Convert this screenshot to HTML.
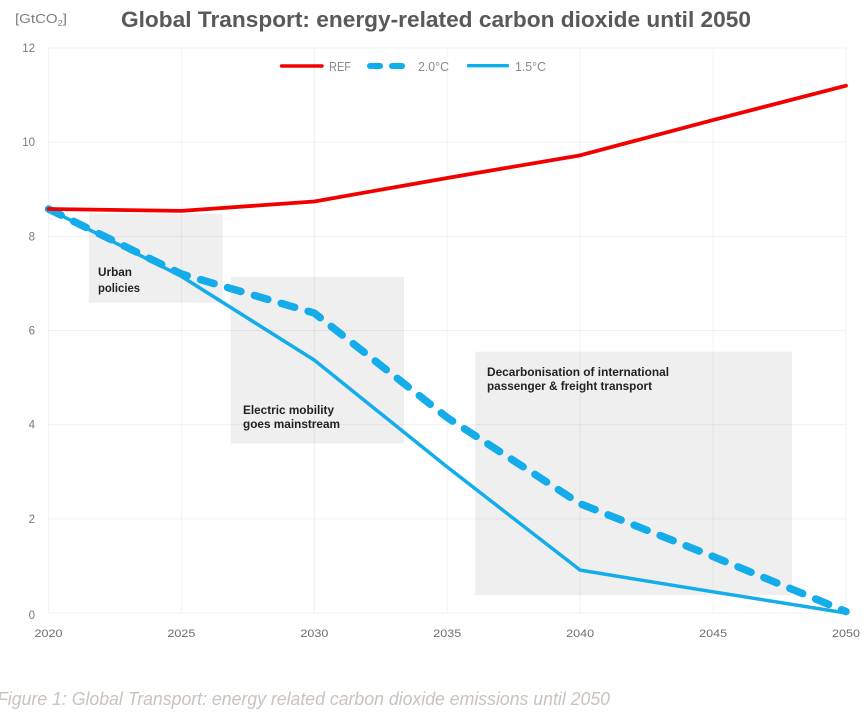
<!DOCTYPE html>
<html lang="en">
<head>
<meta charset="utf-8">
<title>Global Transport: energy-related carbon dioxide until 2050</title>
<style>
html,body{margin:0;padding:0;background:#fff;width:867px;height:720px;overflow:hidden}
svg{display:block;font-family:"Liberation Sans",sans-serif}
</style>
</head>
<body>
<svg id="chart" xmlns="http://www.w3.org/2000/svg" width="867" height="720" viewBox="0 0 867 720">
  <rect x="0" y="0" width="867" height="720" fill="#ffffff"/>
  <g id="boxes"></g>
  <g id="grid"></g>
  <g id="ticks"></g>
  <g id="series"></g>
  <g id="notes"></g>
  <text x="436" y="27" text-anchor="middle" font-size="22.5" font-weight="bold" fill="#595959" textLength="630" lengthAdjust="spacingAndGlyphs">Global Transport: energy-related carbon dioxide until 2050</text>
  <text x="15" y="23" font-size="13" fill="#7f7f7f" textLength="52" lengthAdjust="spacingAndGlyphs">[GtCO<tspan font-size="8" dy="3">2</tspan><tspan dy="-3">]</tspan></text>
  <g id="legend"></g>
  <text x="-3" y="705" font-size="18" font-style="italic" fill="#c9c3be" textLength="613" lengthAdjust="spacingAndGlyphs">Figure 1: Global Transport: energy related carbon dioxide emissions until 2050</text>
</svg>
<script>
const years = [2020, 2025, 2030, 2035, 2040, 2045, 2050];
const yTicks = [0, 2, 4, 6, 8, 10, 12];
const refValues = [8.58, 8.54, 8.74, 9.24, 9.72, 10.47, 11.2];
const twoDegreeValues = [8.58, 7.2, 6.37, 4.15, 2.32, 1.2, 0.03];
const onePointFiveValues = [8.58, 7.15, 5.37, 3.1, 0.91, 0.45, 0];
const boxYears = [[2021.52, 2026.55], [2026.85, 2033.37], [2036.05, 2047.97]];
const boxValues = [[8.48, 6.59], [7.14, 3.6], [5.55, 0.38]];

const NS = 'http://www.w3.org/2000/svg';
const X0 = 48.5, X1 = 846, Y0 = 613, Y1 = 48;
function xScale(v) { return X0 + (v - years[0]) / (years[years.length - 1] - years[0]) * (X1 - X0); }
function yScale(v) { return Y0 - (v - yTicks[0]) / (yTicks[yTicks.length - 1] - yTicks[0]) * (Y0 - Y1); }
function mk(tag, attrs, parent) {
  const el = document.createElementNS(NS, tag);
  for (const k in attrs) el.setAttribute(k, attrs[k]);
  parent.appendChild(el);
  return el;
}

const boxes = document.getElementById('boxes');
boxYears.forEach(function (b, i) {
  const r = mk('rect', {
    x: xScale(b[0]), y: yScale(boxValues[i][0]),
    width: xScale(b[1]) - xScale(b[0]),
    height: yScale(boxValues[i][1]) - yScale(boxValues[i][0]),
    fill: '#efefef'
  }, boxes);
  
  
});

const grid = document.getElementById('grid');
const ticks = document.getElementById('ticks');
yTicks.forEach(function (t) {
  const l = mk('line', { x1: X0, x2: X1, y1: yScale(t), y2: yScale(t), stroke: '#000000', 'stroke-opacity': 0.05, 'stroke-width': 1 }, grid);
  
  
  const s = mk('text', { x: 35, y: yScale(t) + (t === 0 ? 6 : 4), 'text-anchor': 'end', 'font-size': 11.5, fill: '#7a7a7a' }, ticks);
  s.textContent = t;
  
  
});
years.forEach(function (t) {
  const l = mk('line', { x1: xScale(t), x2: xScale(t), y1: Y1, y2: Y0, stroke: '#000000', 'stroke-opacity': 0.05, 'stroke-width': 1 }, grid);
  
  
  const s = mk('text', { x: xScale(t), y: 637, 'text-anchor': 'middle', 'font-size': 11, fill: '#6e6e6e', textLength: 28, lengthAdjust: 'spacingAndGlyphs' }, ticks);
  s.textContent = t;
  
  
});

function pts(values) {
  return values.map(function (v, i) { return xScale(years[i]) + ',' + yScale(v); }).join(' ');
}
const series = document.getElementById('series');
const s1 = mk('polyline', { points: pts(onePointFiveValues), fill: 'none', stroke: '#14adea', 'stroke-width': 3.5, 'stroke-linejoin': 'round', 'stroke-linecap': 'round' }, series);


const s2 = mk('polyline', { points: pts(twoDegreeValues), fill: 'none', stroke: '#14adea', 'stroke-width': 7.5, 'stroke-linejoin': 'round', 'stroke-linecap': 'round', 'stroke-dasharray': '14 14' }, series);


const s3 = mk('polyline', { points: pts(refValues), fill: 'none', stroke: '#f20000', 'stroke-width': 3.8, 'stroke-linejoin': 'round', 'stroke-linecap': 'round' }, series);



const notes = document.getElementById('notes');
function note(x, y, w, text) {
  const t = mk('text', { x: x, y: y, 'font-size': 11.5, 'font-weight': 'bold', fill: '#222222', textLength: w, lengthAdjust: 'spacingAndGlyphs' }, notes);
  t.textContent = text;
  
  
}
note(98, 276, 34, 'Urban');
note(98, 292, 42, 'policies');
note(243, 414, 91, 'Electric mobility');
note(243, 428, 97, 'goes mainstream');
note(487, 376, 182, 'Decarbonisation of international');
note(487, 390, 165, 'passenger & freight transport');

const legend = document.getElementById('legend');
const l1 = mk('line', { x1: 281.5, x2: 322, y1: 66, y2: 66, stroke: '#f20000', 'stroke-width': 3.4, 'stroke-linecap': 'round' }, legend);


const l2 = mk('line', { x1: 370, x2: 402, y1: 66, y2: 66, stroke: '#0eaeea', 'stroke-width': 6, 'stroke-linecap': 'round', 'stroke-dasharray': '10 12' }, legend);


const l3 = mk('line', { x1: 468.5, x2: 507.5, y1: 65.7, y2: 65.7, stroke: '#0eaeea', 'stroke-width': 3.4, 'stroke-linecap': 'round' }, legend);


[['REF', 329, 22], ['2.0°C', 418, 31], ['1.5°C', 515, 31]].forEach(function (e) {
  const t = mk('text', { x: e[1], y: 71, 'font-size': 12.5, fill: '#8a8a8a', textLength: e[2], lengthAdjust: 'spacingAndGlyphs' }, legend);
  t.textContent = e[0];
  
  
});
</script>
</body>
</html>
